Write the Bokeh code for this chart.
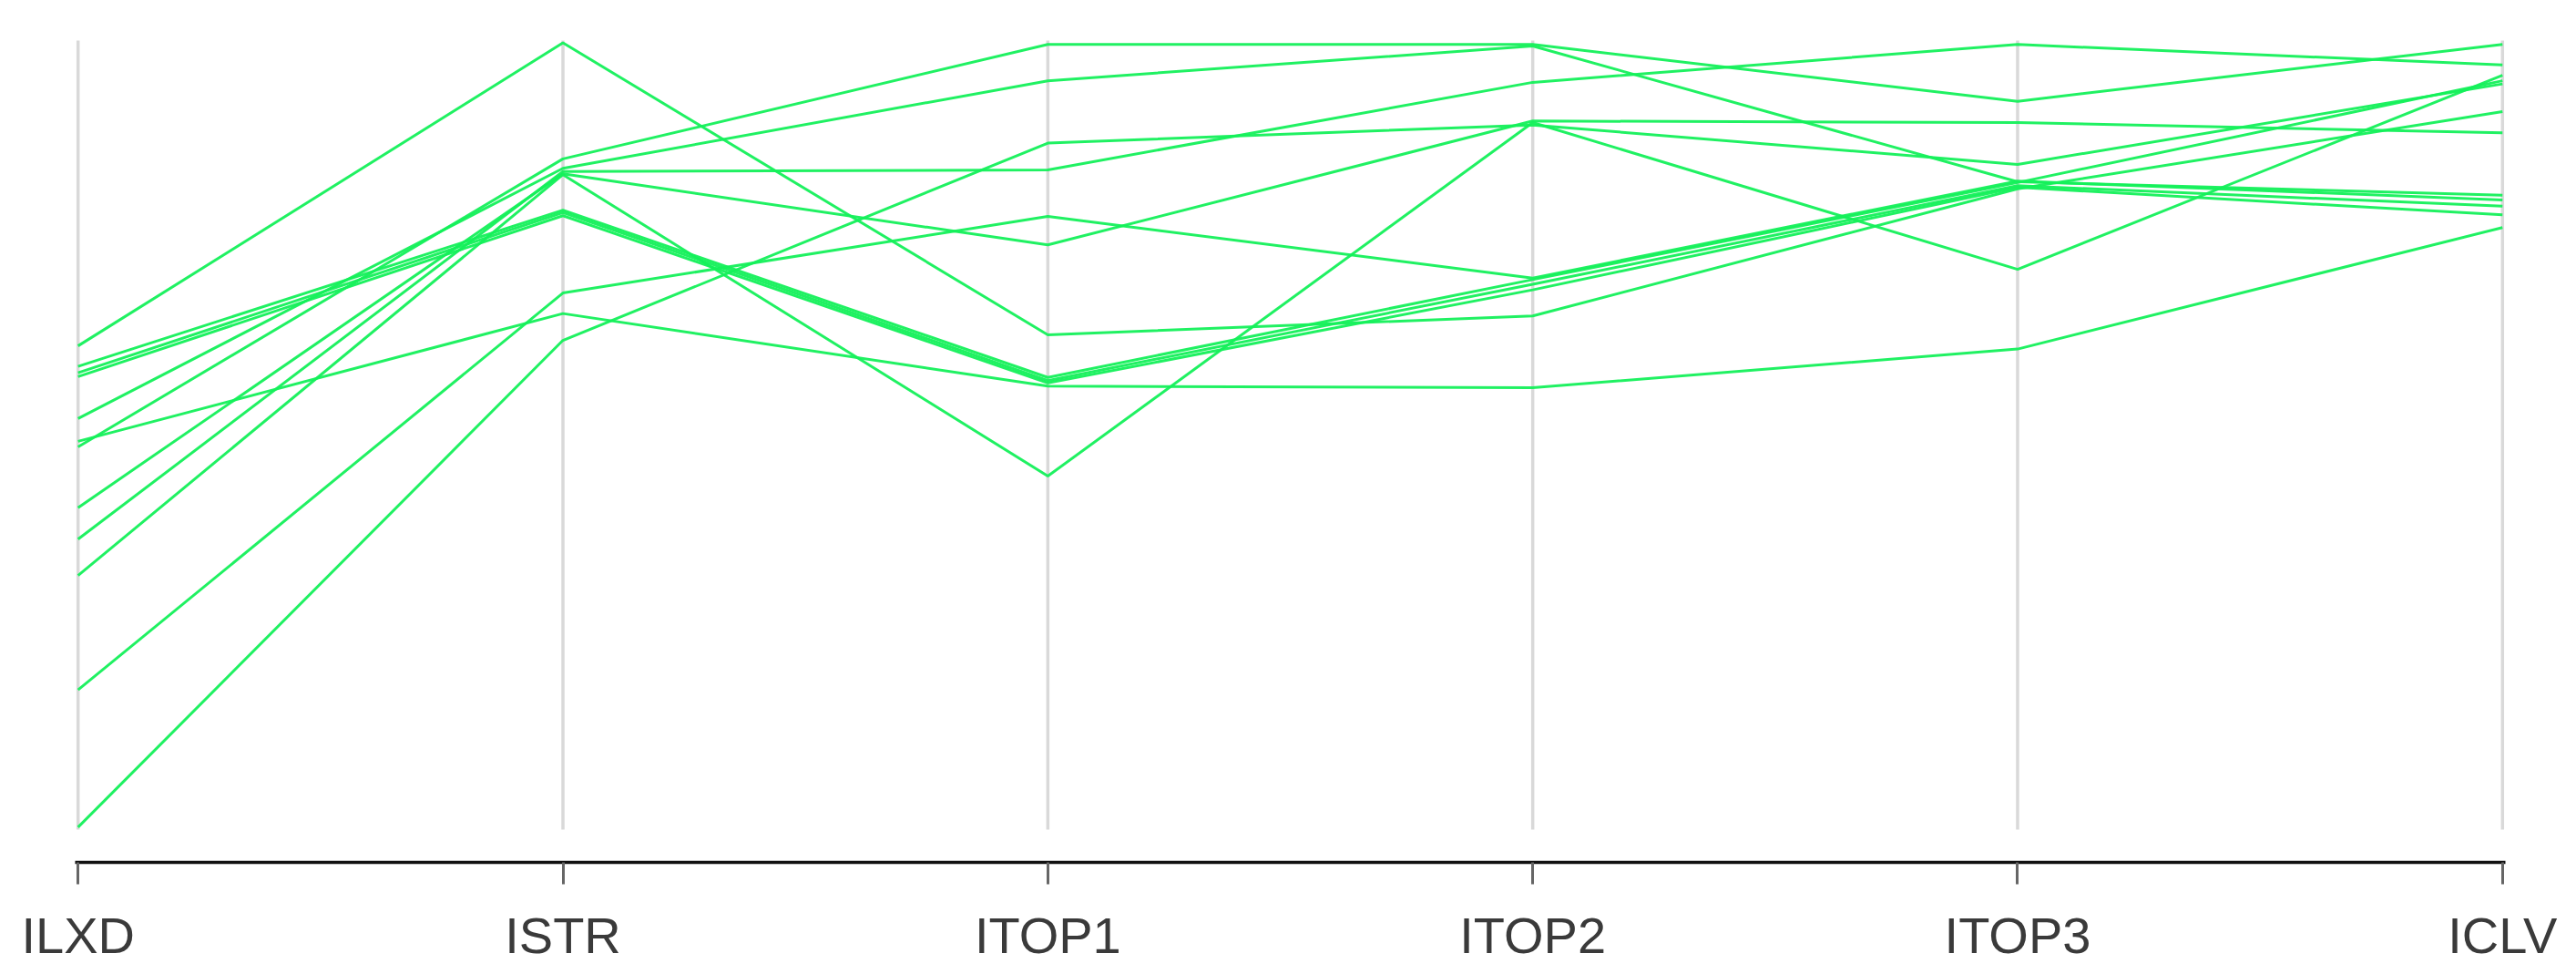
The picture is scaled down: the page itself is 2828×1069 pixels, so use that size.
from bokeh.plotting import figure
from bokeh.models import Range1d, FixedTicker
from bokeh.embed import file_html
from bokeh.resources import INLINE

# Axis (dimension) names
axes_names = ["ILXD", "ISTR", "ITOP1", "ITOP2", "ITOP3", "ICLV"]

# Values of each record on a common 0..1 scale, one list per record
rec01 = [0.613, 0.997, 0.627, 0.651, 0.812, 0.910]
rec02 = [0.485, 0.850, 0.995, 0.995, 0.923, 0.995]
rec03 = [0.521, 0.838, 0.949, 0.993, 0.821, 0.804]
rec04 = [0.368, 0.834, 0.836, 0.947, 0.995, 0.969]
rec05 = [0.408, 0.831, 0.741, 0.898, 0.896, 0.883]
rec06 = [0.322, 0.830, 0.448, 0.896, 0.710, 0.956]
rec07 = [0.587, 0.785, 0.573, 0.697, 0.820, 0.949]
rec08 = [0.579, 0.782, 0.569, 0.691, 0.816, 0.790]
rec09 = [0.574, 0.778, 0.566, 0.684, 0.814, 0.779]
rec10 = [0.177, 0.680, 0.777, 0.699, 0.822, 0.798]
rec11 = [0.492, 0.654, 0.562, 0.560, 0.609, 0.763]
rec12 = [0.003, 0.620, 0.870, 0.893, 0.843, 0.945]

records = [rec01, rec02, rec03, rec04, rec05, rec06,
           rec07, rec08, rec09, rec10, rec11, rec12]

SCALE_MIN = 0.0
SCALE_MAX = 1.0

p = figure(width=2820, height=1064,
           x_range=Range1d(-0.006, 5.006),
           y_range=Range1d(-0.0416, 1.0046),
           output_backend="svg", toolbar_location=None,
           min_border_left=82, min_border_right=70,
           min_border_top=40, min_border_bottom=118)

p.outline_line_color = None
p.background_fill_color = "white"
p.border_fill_color = "white"
p.xgrid.visible = False
p.ygrid.visible = False
p.yaxis.visible = False

idx = list(range(len(axes_names)))

# vertical axis rules
p.segment(x0=idx, y0=[SCALE_MIN] * len(idx), x1=idx, y1=[SCALE_MAX] * len(idx),
          line_color="#d9d9d9", line_width=3.5)

# records
p.multi_line(xs=[idx] * len(records), ys=records,
             line_color="#14f05a", line_width=3.0, line_alpha=0.95)

ax = p.xaxis[0]
ax.ticker = FixedTicker(ticks=idx)
ax.major_label_overrides = {i: n for i, n in enumerate(axes_names)}
ax.axis_line_color = "#111111"
ax.axis_line_width = 3.5
ax.major_tick_line_color = "#666666"
ax.major_tick_line_width = 3
ax.major_tick_in = 0
ax.major_tick_out = 24
ax.minor_tick_line_color = None
ax.major_label_standoff = 24
ax.major_label_text_font = "Liberation Sans"
ax.major_label_text_font_size = "56px"
ax.major_label_text_color = "#3a3a3a"

open("out.html", "w").write(file_html(p, INLINE))
